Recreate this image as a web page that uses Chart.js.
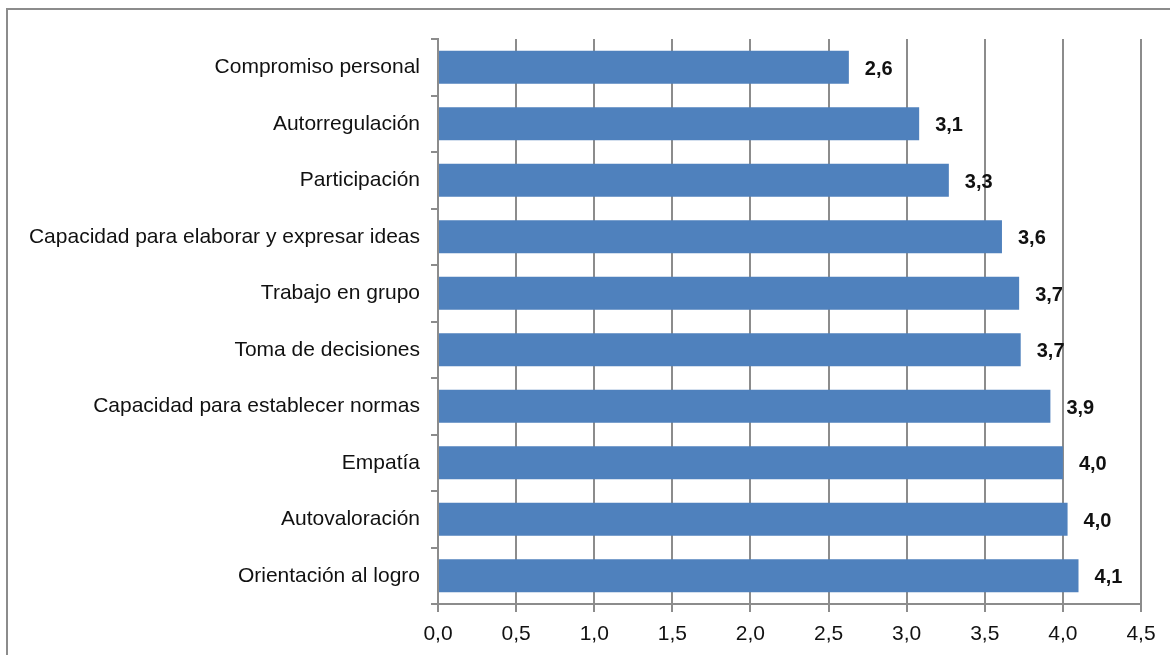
<!DOCTYPE html>
<html>
<head>
<meta charset="utf-8">
<script src="https://cdn.jsdelivr.net/npm/chart.js@4/dist/chart.umd.min.js"></script>
<style>
  body { margin: 0; overflow: hidden; background: #fff; }
  #frame { position: absolute; left: 6px; top: 8px; width: 1300px; height: 800px;
           border-top: 2px solid #8c8c8c; border-left: 2px solid #8c8c8c; }
  #wrap { position: absolute; left: 0; top: 0; width: 1170px; height: 655px; }
</style>
</head>
<body>
<div id="frame"></div>
<div id="wrap"><canvas id="chart" width="1170" height="655"></canvas></div>
<script>

// ============================
// DATA
// ============================

const categories = [
    'Compromiso personal',
    'Autorregulación',
    'Participación',
    'Capacidad para elaborar y expresar ideas',
    'Trabajo en grupo',
    'Toma de decisiones',
    'Capacidad para establecer normas',
    'Empatía',
    'Autovaloración',
    'Orientación al logro'
];

const values = [2.63, 3.08, 3.27, 3.61, 3.72, 3.73, 3.92, 4.0, 4.03, 4.1];

const xTicks = [0, 0.5, 1, 1.5, 2, 2.5, 3, 3.5, 4, 4.5];


const fmt = v => v.toFixed(1).replace('.', ',');

const FONT = '"Liberation Sans", Arial, sans-serif';


// value labels at the end of each bar
const valueLabels = {
    id: 'valueLabels',
    afterDatasetsDraw(chart) {
        const ctx = chart.ctx;
        const meta = chart.getDatasetMeta(0);
        ctx.save();
        ctx.font = 'bold 20px ' + FONT;
        ctx.fillStyle = '#111';
        ctx.textAlign = 'left';
        ctx.textBaseline = 'middle';
        meta.data.forEach((bar, i) => {
            ctx.fillText(fmt(values[i]), bar.x + 16, bar.y + 2);
        });
        ctx.restore();
    }
};


new Chart(document.getElementById('chart').getContext('2d'), {

    type: 'bar',

    data: {
        labels: categories,
        datasets: [{
            data: values,
            backgroundColor: '#4F81BD',
            borderWidth: 0,
            categoryPercentage: 1,
            barPercentage: 0.585
        }]
    },

    options: {
        indexAxis: 'y',
        responsive: false,
        animation: false,
        layout: {
            padding: { left: 0, top: 39, right: 29, bottom: 0 }
        },
        scales: {
            x: {
                min: 0,
                max: 4.5,
                afterBuildTicks: scale => {
                    scale.ticks = xTicks.map(v => ({ value: v }));
                },
                afterFit: scale => { scale.height = 51; },
                ticks: {
                    color: '#111',
                    padding: 10,
                    font: { family: FONT, size: 21 },
                    callback: v => fmt(v)
                },
                grid: {
                    color: '#8c8c8c',
                    lineWidth: 2,
                    tickLength: 8
                },
                border: { color: '#8c8c8c', width: 2 }
            },
            y: {
                afterFit: scale => { scale.width = 438; },
                ticks: {
                    color: '#111',
                    padding: 11,
                    font: { family: FONT, size: 21 }
                },
                grid: {
                    offset: true,
                    drawOnChartArea: false,
                    color: '#8c8c8c',
                    lineWidth: 2,
                    tickLength: 7
                },
                border: { color: '#8c8c8c', width: 2 }
            }
        },
        plugins: {
            legend: { display: false },
            tooltip: { enabled: false }
        }
    },

    plugins: [valueLabels]

});

</script>
</body>
</html>
